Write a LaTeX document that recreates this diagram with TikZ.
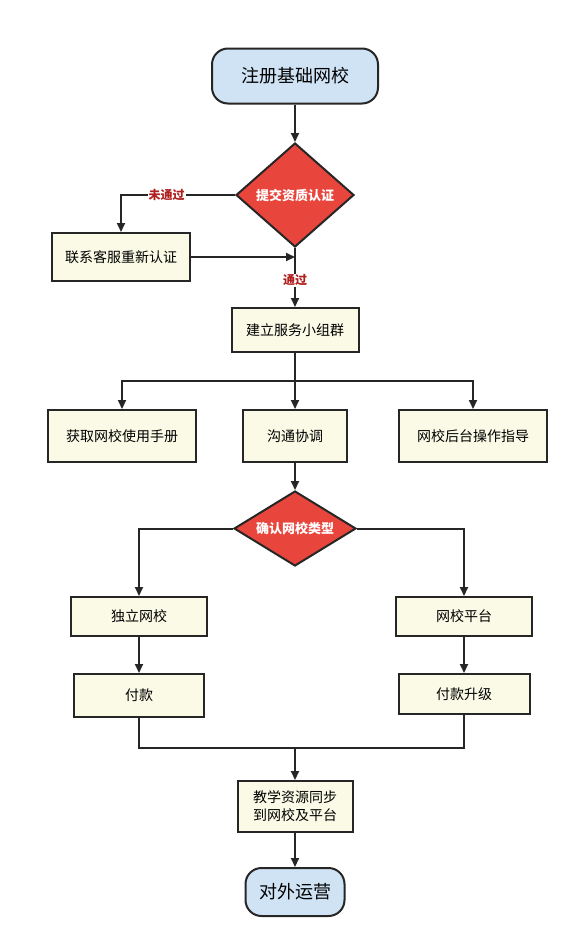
\documentclass[tikz,border=0pt]{standalone}
\usepackage{fontspec}
\setmainfont{Noto Sans CJK SC}
\newfontfamily\cjk{Noto Sans CJK SC}
\usetikzlibrary{shapes.geometric,arrows.meta}
\definecolor{termfill}{HTML}{CFE3F5}
\definecolor{boxfill}{HTML}{FAFAE6}
\definecolor{decfill}{HTML}{E8453C}
\definecolor{lblred}{HTML}{B01E1E}
\begin{document}
\begin{tikzpicture}[x=1pt,y=-1pt,
  line width=2pt,
  term/.style={draw=black!85,fill=termfill,rounded corners=16pt,inner sep=0pt,font=\cjk\fontsize{18}{20}\selectfont},
  procbox/.style={draw=black!85,fill=boxfill,inner sep=0pt,font=\cjk\fontsize{14}{18}\selectfont,align=center},
  dec/.style={draw=black!85,fill=decfill,diamond,inner sep=0pt,text=white,font=\cjk\bfseries\fontsize{13}{15}\selectfont},
  lbl/.style={text=lblred,font=\cjk\bfseries\fontsize{12}{14}\selectfont,fill=white,inner sep=1pt},
  arr/.style={-{Triangle[length=9pt,width=8pt]},draw=black!85},
  ln/.style={draw=black!85}]
\useasboundingbox[fill=white] (0,0) rectangle (580,948);
\node[term,minimum width=166pt,minimum height=55pt] (t1) at (295,76) {注册基础网校};
\node[dec,minimum width=118pt,minimum height=104pt,aspect=1.13] (d1) at (295,195) {提交资质认证};
\node[procbox,minimum width=138pt,minimum height=48pt] (b0) at (121,257) {联系客服重新认证};
\node[procbox,minimum width=127pt,minimum height=44pt] (b1) at (295,330) {建立服务小组群};
\node[procbox,minimum width=148pt,minimum height=52pt] (b2) at (122,436) {获取网校使用手册};
\node[procbox,minimum width=104pt,minimum height=52pt] (b3) at (295,436) {沟通协调};
\node[procbox,minimum width=148pt,minimum height=52pt] (b4) at (473,436) {网校后台操作指导};
\node[dec,minimum width=122pt,minimum height=75pt,aspect=1.63] (d2) at (295,528.5) {确认网校类型};
\node[procbox,minimum width=136pt,minimum height=39pt] (b5) at (139,616.5) {独立网校};
\node[procbox,minimum width=130pt,minimum height=43pt] (b6) at (139,695.5) {付款};
\node[procbox,minimum width=136pt,minimum height=39pt] (b7) at (464,616.5) {网校平台};
\node[procbox,minimum width=131pt,minimum height=40pt] (b8) at (464,694) {付款升级};
\node[procbox,minimum width=115pt,minimum height=51pt] (b9) at (295,806.5) {教学资源同步\\到网校及平台};
\node[term,minimum width=99pt,minimum height=48pt] (t2) at (295,892) {对外运营};
\coordinate (j1) at (295,257);
\coordinate (s1) at (295,381);
\coordinate (j2) at (295,748);
% connectors
\draw[arr] (t1) -- (d1.north);
\draw[arr] (d1.west) -| node[lbl,pos=0.3]{未通过} (b0.north);
\draw[arr] (b0.east) -- (j1);
\draw[arr] (d1.south) -- node[lbl,pos=0.55]{通过} (b1.north);
\draw[ln] (b1.south) -- (s1);
\draw[arr] (s1) -| (b2.north);
\draw[arr] (s1) -| (b4.north);
\draw[arr] (s1) -- (b3.north);
\draw[arr] (b3.south) -- (d2.north);
\draw[arr] (d2.west) -| (b5.north);
\draw[arr] (d2.east) -| (b7.north);
\draw[arr] (b5) -- (b6);
\draw[arr] (b7) -- (b8);
\draw[ln] (b6.south) |- (j2);
\draw[ln] (b8.south) |- (j2);
\draw[arr] (j2) -- (b9.north);
\draw[arr] (b9) -- (t2);
\end{tikzpicture}
\end{document}
